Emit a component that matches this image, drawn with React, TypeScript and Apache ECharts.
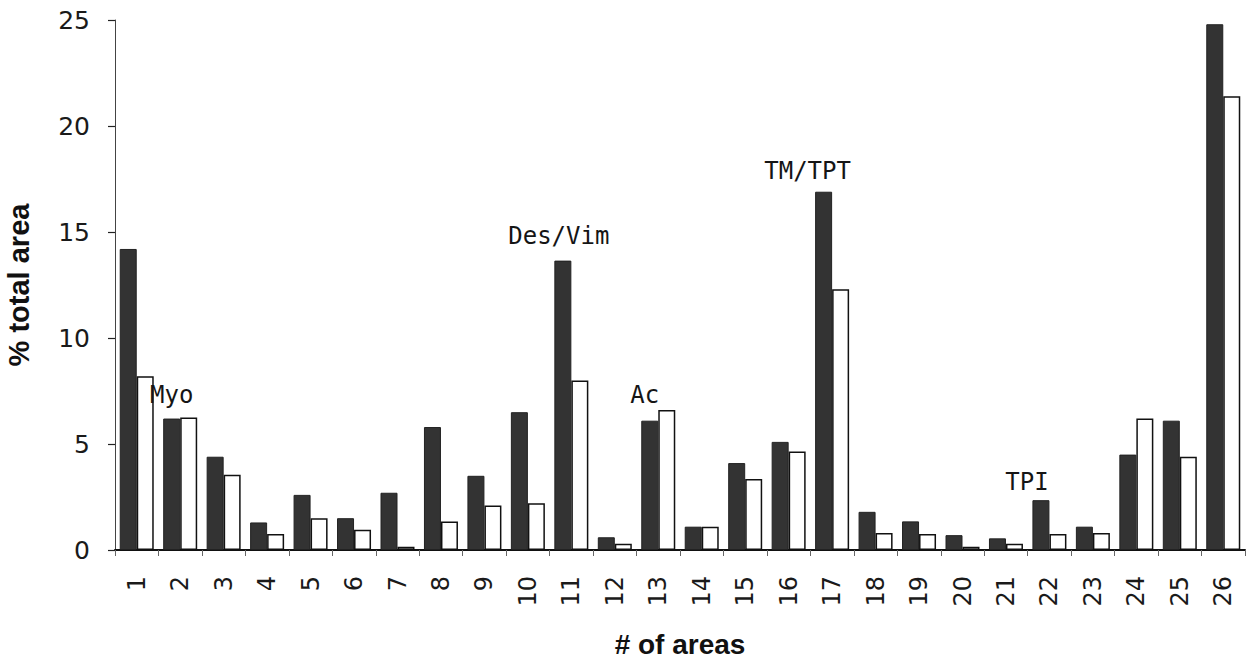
import React, { useEffect, useRef } from "react";
import * as echarts from "echarts";

const categories = ["1","2","3","4","5","6","7","8","9","10","11","12","13","14","15","16","17","18","19","20","21","22","23","24","25","26"];
const normalValues = [14.2, 6.2, 4.4, 1.3, 2.6, 1.5, 2.7, 5.8, 3.5, 6.5, 13.65, 0.6, 6.1, 1.1, 4.1, 5.1, 16.9, 1.8, 1.35, 0.7, 0.55, 2.35, 1.1, 4.5, 6.1, 24.8];
const mutantValues = [8.2, 6.25, 3.55, 0.75, 1.5, 0.95, 0.15, 1.35, 2.1, 2.2, 8.0, 0.3, 6.6, 1.1, 3.35, 4.65, 12.3, 0.8, 0.75, 0.15, 0.3, 0.75, 0.8, 6.2, 4.4, 21.4];
const yTicks = [0, 5, 10, 15, 20, 25];
const annotLabels = ["Myo", "Des/Vim", "Ac", "TM/TPT", "TPI"];
const annotCats = ["2", "11", "13", "17", "22"];
const annotValues = [7.3, 14.8, 7.3, 17.9, 3.2];
const annotOffsets = [0, -4, -5, -16, -14];

export default function App() {
  const ref = useRef<HTMLDivElement>(null);
  useEffect(() => {
    document.body.style.margin = "0";
    const chart = echarts.init(ref.current!, null, { renderer: "svg" });
    chart.setOption({
      animation: false,
      backgroundColor: "#ffffff",
      grid: { left: 115, right: 2, top: 20, bottom: 110, containLabel: false, outerBoundsMode: "none" },
      xAxis: {
        type: "category",
        data: categories,
        name: "# of areas",
        nameLocation: "middle",
        nameGap: 80,
        nameTextStyle: { fontFamily: "Liberation Sans", fontWeight: "bold", fontSize: 28, color: "#111", verticalAlign: "top" },
        axisLine: { show: true, lineStyle: { color: "#111", width: 2 } },
        axisTick: { show: true, interval: 0, length: 6, lineStyle: { color: "#666", width: 1 } },
        axisLabel: { interval: 0, rotate: 90, margin: 26, fontFamily: "DejaVu Sans", fontSize: 24, color: "#1a1a1a" },
        splitLine: { show: false },
      },
      yAxis: {
        type: "value",
        min: yTicks[0],
        max: yTicks[yTicks.length - 1],
        interval: 5,
        name: "% total area",
        nameLocation: "middle",
        nameGap: 82,
        nameTextStyle: { fontFamily: "Liberation Sans", fontWeight: "bold", fontSize: 29, color: "#111" },
        axisLine: { show: true, lineStyle: { color: "#444", width: 1 } },
        axisTick: { show: true, length: 7, lineStyle: { color: "#222", width: 1.2 } },
        axisLabel: { margin: 25, fontFamily: "DejaVu Sans", fontSize: 25, color: "#1a1a1a" },
        splitLine: { show: false },
      },
      series: [
        {
          type: "bar",
          name: "normal",
          data: normalValues,
          barWidth: 17,
          barGap: "0%",
          itemStyle: { color: "#333333", borderColor: "#222", borderWidth: 1 },
          markPoint: {
            symbol: "rect",
            symbolSize: 0,
            data: annotLabels.map((n, i) => ({
              name: n,
              coord: [annotCats[i], annotValues[i]],
              label: { offset: [annotOffsets[i], 0] },
            })),
            label: {
              show: true,
              position: "inside",
              formatter: "{b}",
              fontFamily: "DejaVu Sans Mono",
              fontSize: 24,
              color: "#151515",
            },
          },
        },
        {
          type: "bar",
          name: "mutant",
          data: mutantValues,
          barWidth: 17,
          barGap: "0%",
          itemStyle: { color: "#ffffff", borderColor: "#111", borderWidth: 1.5 },
        },
      ],
    });
    return () => chart.dispose();
  }, []);
  return <div ref={ref} style={{ width: 1247, height: 660, position: "fixed", left: 0, top: 0 }} />;
}
